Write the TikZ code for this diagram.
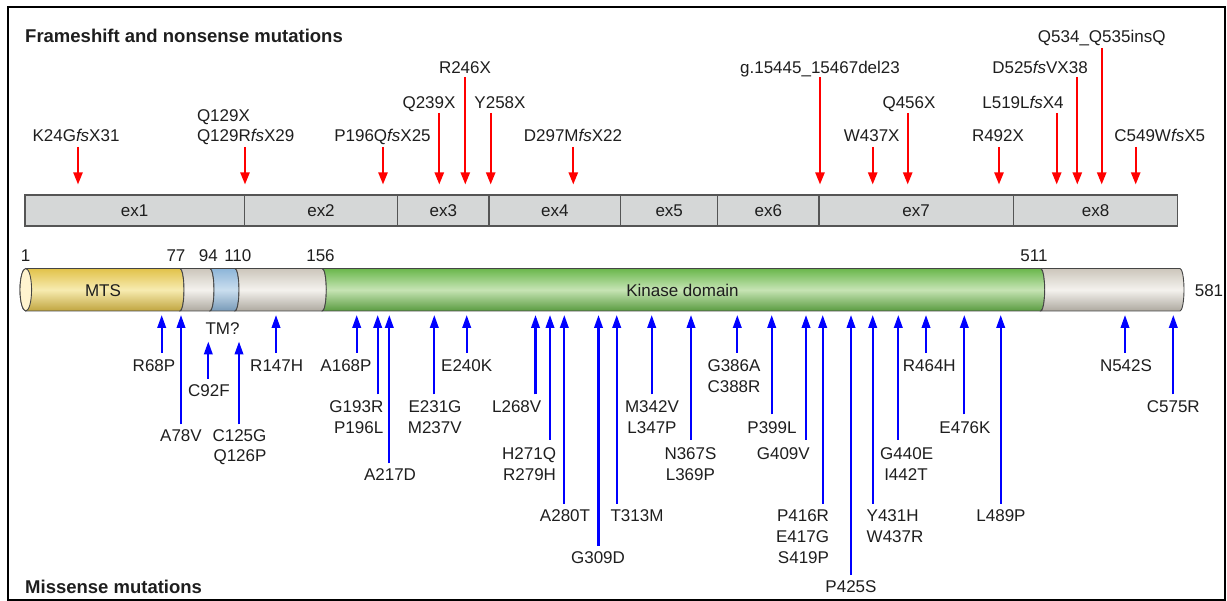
\documentclass[tikz,border=0pt]{standalone}
\usepackage{fontspec}
\setmainfont{Liberation Sans}
\usetikzlibrary{arrows.meta}
\definecolor{txt}{HTML}{1E1E1E}
\definecolor{exfill}{HTML}{D5D7D7}
\definecolor{exline}{HTML}{555555}
\definecolor{barline}{HTML}{454545}
\definecolor{mtsE}{HTML}{E2C24A}
\definecolor{mtsL}{HTML}{F7EBB0}
\definecolor{grayE}{HTML}{CCC6BB}
\definecolor{grayL}{HTML}{F4F2EE}
\definecolor{blueE}{HTML}{8DB5D8}
\definecolor{blueL}{HTML}{CADEEF}
\definecolor{greenE}{HTML}{6AB74C}
\definecolor{greenL}{HTML}{C6E4B4}
\definecolor{faceC}{HTML}{FFF4CF}
\begin{document}
\begin{tikzpicture}[x=1pt,y=1pt,
  lab/.style={font=\fontsize{17}{21}\selectfont, text=txt, inner sep=0pt, outer sep=0pt},
  ttl/.style={font=\fontsize{18.5}{22}\selectfont\bfseries, text=txt, inner sep=0pt, anchor=base west},
  exbox/.style={draw=exline, fill=exfill, line width=1.2pt, minimum height=31pt, inner sep=0pt, outer sep=0pt, anchor=west, font=\fontsize{17}{21}\selectfont, text=txt},
  redarr/.style={draw=red, line width=2.2pt, -{Triangle[length=12pt,width=9pt]}},
  bluearr/.style={draw=blue, line width=2.2pt, -{Triangle[length=13pt,width=8.5pt]}},
  segline/.style={draw=barline, line width=0.9pt}]
\useasboundingbox (0,0) rectangle (1227,-601);
\draw[line width=2pt] (7.5,-7.5) rectangle (1224.5,-599.5);

% titles
\node[ttl] (ttop) at (25,-43) {Frameshift and nonsense mutations};
\node[ttl] (tbot) at (25,-593) {Missense mutations};

% exon bar
\node[exbox, minimum width=219.3pt] (ex1) at (25,-210.5) {ex1};
\node[exbox, minimum width=153.4pt] (ex2) at (244.3,-210.5) {ex2};
\node[exbox, minimum width=91.3pt] (ex3) at (397.7,-210.5) {ex3};
\node[exbox, minimum width=131.7pt] (ex4) at (489,-210.5) {ex4};
\node[exbox, minimum width=97pt] (ex5) at (620.7,-210.5) {ex5};
\node[exbox, minimum width=101.3pt] (ex6) at (717.7,-210.5) {ex6};
\node[exbox, minimum width=194.3pt] (ex7) at (819,-210.5) {ex7};
\node[exbox, minimum width=164.4pt] (ex8) at (1013.3,-210.5) {ex8};

% red arrows
\foreach \n/\x/\ys in {a/78/147, b/245/147, c/383/147, d/439.3/113, e/465.3/77, f/490.7/113, g/573.3/147, h/820/77, i/872.7/147, j/907.7/113, k/999/147, l/1056.7/113, m/1077.3/77, n/1101.7/48, o/1135.7/147}{
  \coordinate (r\n s) at (\x,-\ys);
  \coordinate (r\n e) at (\x,-184.5);
  \draw[redarr] (r\n s) -- (r\n e);
}

% red labels
\node[lab, anchor=base] (fa) at (76,-142) {K24G\textit{fs}X31};
\node[lab, anchor=base west] (fb1) at (197,-121.5) {Q129X};
\node[lab, anchor=base west] (fb2) at (197,-142) {Q129R\textit{fs}X29};
\node[lab, anchor=base] (fc) at (382.5,-142) {P196Q\textit{fs}X25};
\node[lab, anchor=base] (fd) at (429,-108.5) {Q239X};
\node[lab, anchor=base] (fe) at (465,-73.5) {R246X};
\node[lab, anchor=base] (ff) at (500,-108.5) {Y258X};
\node[lab, anchor=base] (fg) at (573,-142) {D297M\textit{fs}X22};
\node[lab, anchor=base] (fh) at (820,-73.5) {g.15445\_15467del23};
\node[lab, anchor=base] (fi) at (871.7,-142) {W437X};
\node[lab, anchor=base] (fj) at (909,-108.5) {Q456X};
\node[lab, anchor=base] (fk) at (998,-142) {R492X};
\node[lab, anchor=base] (fl) at (1023,-108.5) {L519L\textit{fs}X4};
\node[lab, anchor=base] (fm) at (1040,-73.5) {D525\textit{fs}VX38};
\node[lab, anchor=base] (fn) at (1101.7,-42.5) {Q534\_Q535insQ};
\node[lab, anchor=base] (fo) at (1159.7,-142) {C549W\textit{fs}X5};

% protein bar
\path[segline, top color=mtsE, bottom color=mtsE!85!black, middle color=mtsL]
  (25.8,-268.5) -- (180,-268.5) arc[start angle=90,end angle=-90,x radius=4,y radius=21.25]
  -- (25.8,-311) arc[start angle=270,end angle=90,x radius=5.8,y radius=21.25] -- cycle;
\path[segline, top color=grayE, bottom color=grayE!85!black, middle color=grayL]
  (180,-268.5) -- (210,-268.5) arc[start angle=90,end angle=-90,x radius=4,y radius=21.25]
  -- (180,-311) arc[start angle=-90,end angle=90,x radius=4,y radius=21.25] -- cycle;
\path[segline, top color=blueE, bottom color=blueE!85!black, middle color=blueL]
  (210,-268.5) -- (235,-268.5) arc[start angle=90,end angle=-90,x radius=4,y radius=21.25]
  -- (210,-311) arc[start angle=-90,end angle=90,x radius=4,y radius=21.25] -- cycle;
\path[segline, top color=grayE, bottom color=grayE!85!black, middle color=grayL]
  (235,-268.5) -- (322.3,-268.5) arc[start angle=90,end angle=-90,x radius=4,y radius=21.25]
  -- (235,-311) arc[start angle=-90,end angle=90,x radius=4,y radius=21.25] -- cycle;
\path[segline, top color=greenE, bottom color=greenE!85!black, middle color=greenL]
  (322.3,-268.5) -- (1040.7,-268.5) arc[start angle=90,end angle=-90,x radius=4,y radius=21.25]
  -- (322.3,-311) arc[start angle=-90,end angle=90,x radius=4,y radius=21.25] -- cycle;
\path[segline, top color=grayE, bottom color=grayE!85!black, middle color=grayL]
  (1040.7,-268.5) -- (1180,-268.5) arc[start angle=90,end angle=-90,x radius=4,y radius=21.25]
  -- (1040.7,-311) arc[start angle=-90,end angle=90,x radius=4,y radius=21.25] -- cycle;
\draw[segline, fill=faceC] (25.8,-289.75) ellipse [x radius=5.8, y radius=21.25];

\node[lab, anchor=base] (mts) at (103,-297) {MTS};
\node[lab, anchor=base] (kin) at (682.5,-296.7) {Kinase domain};
\node[lab, anchor=base] (tm) at (222.5,-335) {TM?};

% positions
\node[lab, anchor=base] (p1) at (25.5,-262) {1};
\node[lab, anchor=base] (p77) at (176,-262) {77};
\node[lab, anchor=base] (p94) at (208.3,-262) {94};
\node[lab, anchor=base] (p110) at (237.8,-262) {110};
\node[lab, anchor=base] (p156) at (320.5,-262) {156};
\node[lab, anchor=base] (p511) at (1034,-262) {511};
\node[lab, anchor=base] (p581) at (1209,-296.5) {581};

% blue arrows
\foreach \n/\x/\yt/\yb in {a/161.7/315/353, b/181/315/424.3, c/208.3/341.5/379, d/239/341.5/424.3,
  e/276/315/353, f/356.7/315/353, g/377.7/315/394.3, h/389.3/315/463.3, i/434.3/315/394.3,
  j/466.7/315/353, k/535.5/315/394.3, l/550/315/440, m/564.3/315/504, n/598.5/315/545.7,
  o/616.7/315/504, p/651.7/315/394.3, q/691/315/440, r/737.3/315/353, s/771.7/315/414.3,
  t/806/315/440, u/822.7/315/504, v/851/315/575, w/872.7/315/504, x/898.3/315/440,
  y/926/315/353, z/964.3/315/414.3, aa/1000.7/315/504, ab/1125/315/353, ac/1173.3/315/394.3}{
  \coordinate (b\n s) at (\x,-\yb);
  \coordinate (b\n e) at (\x,-\yt);
  \draw[bluearr] (b\n s) -- (b\n e);
}

% blue labels
\node[lab, anchor=base] (ma) at (154,-371.5) {R68P};
\node[lab, anchor=base] (mb) at (181,-442) {A78V};
\node[lab, anchor=base] (mc) at (209,-396.5) {C92F};
\node[lab, anchor=base] (md1) at (239.5,-442) {C125G};
\node[lab, anchor=base] (md2) at (240,-462) {Q126P};
\node[lab, anchor=base] (me) at (276.7,-371.5) {R147H};
\node[lab, anchor=base] (mf) at (346,-371.5) {A168P};
\node[lab, anchor=base east] (mg1) at (383.3,-412.5) {G193R};
\node[lab, anchor=base east] (mg2) at (383.3,-433.5) {P196L};
\node[lab, anchor=base] (mh) at (390,-480.5) {A217D};
\node[lab, anchor=base] (mi1) at (435,-412.5) {E231G};
\node[lab, anchor=base] (mi2) at (434.8,-433.5) {M237V};
\node[lab, anchor=base] (mj) at (466.7,-371.5) {E240K};
\node[lab, anchor=base] (mk) at (516.7,-412.5) {L268V};
\node[lab, anchor=base east] (ml1) at (556,-459.5) {H271Q};
\node[lab, anchor=base east] (ml2) at (556,-480.5) {R279H};
\node[lab, anchor=base] (mm) at (565,-521.5) {A280T};
\node[lab, anchor=base] (mn) at (598,-563.5) {G309D};
\node[lab, anchor=base] (mo) at (637,-521.5) {T313M};
\node[lab, anchor=base] (mp1) at (652,-412.5) {M342V};
\node[lab, anchor=base] (mp2) at (652,-433.5) {L347P};
\node[lab, anchor=base] (mq1) at (690.5,-459.5) {N367S};
\node[lab, anchor=base] (mq2) at (690.4,-480.5) {L369P};
\node[lab, anchor=base] (mr1) at (734,-371.5) {G386A};
\node[lab, anchor=base] (mr2) at (734,-392.5) {C388R};
\node[lab, anchor=base] (ms) at (772,-433.5) {P399L};
\node[lab, anchor=base] (mt) at (783.3,-459.5) {G409V};
\node[lab, anchor=base east] (mu1) at (829,-521.5) {P416R};
\node[lab, anchor=base east] (mu2) at (829,-542.5) {E417G};
\node[lab, anchor=base east] (mu3) at (829,-563.5) {S419P};
\node[lab, anchor=base] (mv) at (851,-592.5) {P425S};
\node[lab, anchor=base west] (mw1) at (866.7,-521.5) {Y431H};
\node[lab, anchor=base west] (mw2) at (866.7,-542.5) {W437R};
\node[lab, anchor=base] (mx1) at (906.7,-459.5) {G440E};
\node[lab, anchor=base] (mx2) at (906,-480.5) {I442T};
\node[lab, anchor=base] (my) at (929.3,-371.5) {R464H};
\node[lab, anchor=base] (mz) at (965,-433.5) {E476K};
\node[lab, anchor=base] (maa) at (1001,-521.5) {L489P};
\node[lab, anchor=base] (mab) at (1126,-371.5) {N542S};
\node[lab, anchor=base] (mac) at (1173.3,-412.5) {C575R};
\end{tikzpicture}
\end{document}
